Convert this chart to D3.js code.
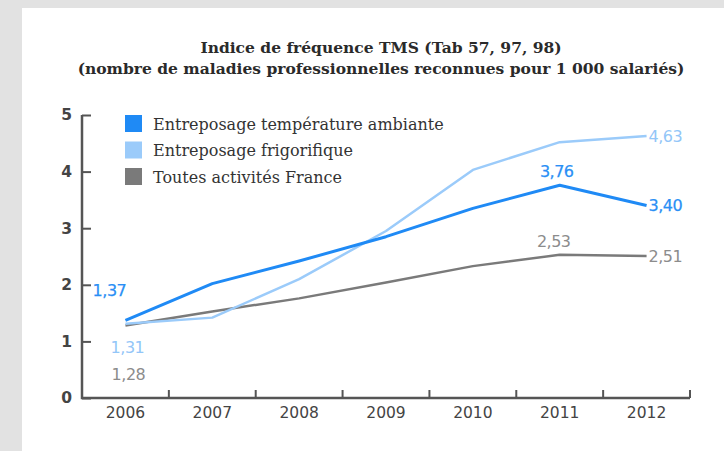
<!DOCTYPE html>
<html lang="fr">
<head>
<meta charset="UTF-8">
<title>Indice de fréquence TMS</title>
<script src="https://cdn.jsdelivr.net/npm/d3@7"></script>
<style>
  body { margin: 0; background: #e2e2e2; }
  svg { display: block; }
</style>
</head>
<body>
<script>
// data
const years = ['2006', '2007', '2008', '2009', '2010', '2011', '2012'];
const ambiante = [1.37, 2.02, 2.42, 2.85, 3.35, 3.76, 3.40];
const frigorifique = [1.31, 1.42, 2.10, 2.95, 4.03, 4.52, 4.63];
const france = [1.28, 1.53, 1.76, 2.04, 2.33, 2.53, 2.51];
const yTicks = [0, 1, 2, 3, 4, 5];
const titleLines = [
  'Indice de fréquence TMS (Tab 57, 97, 98)',
  '(nombre de maladies professionnelles reconnues pour 1 000 salariés)'
];

const series = [
  { name: 'Entreposage température ambiante', values: ambiante, color: '#1f8af5', label: '#2a8ff5', width: 3 },
  { name: 'Entreposage frigorifique', values: frigorifique, color: '#9bcbfa', label: '#93c6f8', width: 2.5 },
  { name: 'Toutes activités France', values: france, color: '#7a7a7a', label: '#8c8c8c', width: 2.5 }
];

// value labels: [series index, year index, dx, dy, anchor]
const valueLabels = [
  [0, 0, -16, -30, 'middle'],
  [1, 0, 2, 24, 'middle'],
  [2, 0, 3, 49, 'middle'],
  [0, 5, -3, -14, 'middle'],
  [2, 5, -6, -13, 'middle'],
  [1, 6, 2, 0, 'start'],
  [0, 6, 2, 0, 'start'],
  [2, 6, 2, 0, 'start']
];

const W = 724, H = 451;
const svg = d3.select('body').append('svg').attr('width', W).attr('height', H);

svg.append('rect').attr('width', W).attr('height', H).attr('fill', '#e2e2e2');
svg.append('rect').attr('x', 22).attr('y', 8).attr('width', W - 22).attr('height', H - 8).attr('fill', '#fff');

const x = d3.scaleBand().domain(years).range([82, 690]);
const y = d3.scaleLinear().domain([0, 5]).range([398, 115]);
const cx = d => x(d) + x.bandwidth() / 2;

// title
svg.append('g').selectAll('text').data(titleLines).enter().append('text')
  .attr('x', 381).attr('y', (d, i) => 53 + i * 21)
  .attr('text-anchor', 'middle')
  .attr('font-family', 'DejaVu Serif')
  .attr('font-weight', 'bold')
  .attr('font-size', 15.5)
  .attr('fill', '#2a2a2a')
  .text(d => d);

// axes
const axisColor = '#555';
const xAxis = svg.append('g').attr('transform', 'translate(0,398)')
  .call(d3.axisBottom(x).tickSize(0).tickPadding(9));
xAxis.select('.domain').remove();
xAxis.selectAll('text')
  .attr('font-family', 'DejaVu Sans').attr('font-size', 15.5).attr('fill', '#444');
xAxis.selectAll('.tick-mark').data(years).enter().append('line')
  .attr('x1', d => x(d) + x.bandwidth()).attr('x2', d => x(d) + x.bandwidth())
  .attr('y1', 0).attr('y2', -8)
  .attr('stroke', axisColor).attr('stroke-width', 2);

const yAxis = svg.append('g').attr('transform', 'translate(82,0)')
  .call(d3.axisLeft(y).tickValues(yTicks).tickSize(0).tickPadding(10).tickFormat(d3.format('d')));
yAxis.select('.domain').remove();
yAxis.selectAll('text')
  .attr('font-family', 'DejaVu Sans').attr('font-size', 15.5).attr('font-weight', 'bold').attr('fill', '#444');
yAxis.selectAll('.tick').append('line')
  .attr('x1', 0).attr('x2', 9)
  .attr('stroke', axisColor).attr('stroke-width', 2);

svg.append('path')
  .attr('d', d3.line()([[82, 115], [82, 398], [690, 398]]))
  .attr('fill', 'none').attr('stroke', axisColor).attr('stroke-width', 2.5);

// lines
const line = d3.line().x((d, i) => cx(years[i])).y(d => y(d));
svg.append('g').selectAll('path').data(series.slice().reverse()).enter().append('path')
  .attr('d', d => line(d.values))
  .attr('fill', 'none')
  .attr('stroke', d => d.color)
  .attr('stroke-width', d => d.width)
  .attr('stroke-linejoin', 'round');

// value labels
svg.append('g').selectAll('text').data(valueLabels).enter().append('text')
  .attr('x', d => cx(years[d[1]]) + d[2])
  .attr('y', d => y(series[d[0]].values[d[1]]) + d[3])
  .attr('dy', '0.35em')
  .attr('text-anchor', d => d[4])
  .attr('font-family', 'DejaVu Sans')
  .attr('font-size', 16)
  .attr('letter-spacing', -0.5)
  .attr('fill', d => series[d[0]].label)
  .attr('stroke', d => d[0] === 0 ? series[d[0]].label : 'none')
  .attr('stroke-width', 0.25)
  .text(d => d3.format('.2f')(series[d[0]].values[d[1]]).replace('.', ','));

// legend
const legend = svg.append('g').attr('transform', 'translate(125,115)');
const item = legend.selectAll('g').data(series).enter().append('g')
  .attr('transform', (d, i) => 'translate(0,' + i * 26.5 + ')');
item.append('rect').attr('width', 17).attr('height', 17).attr('fill', d => d.color);
item.append('text')
  .attr('x', 28).attr('y', 9).attr('dy', '0.35em')
  .attr('font-family', 'DejaVu Serif')
  .attr('font-size', 16)
  .attr('fill', '#333')
  .text(d => d.name);
</script>
</body>
</html>
